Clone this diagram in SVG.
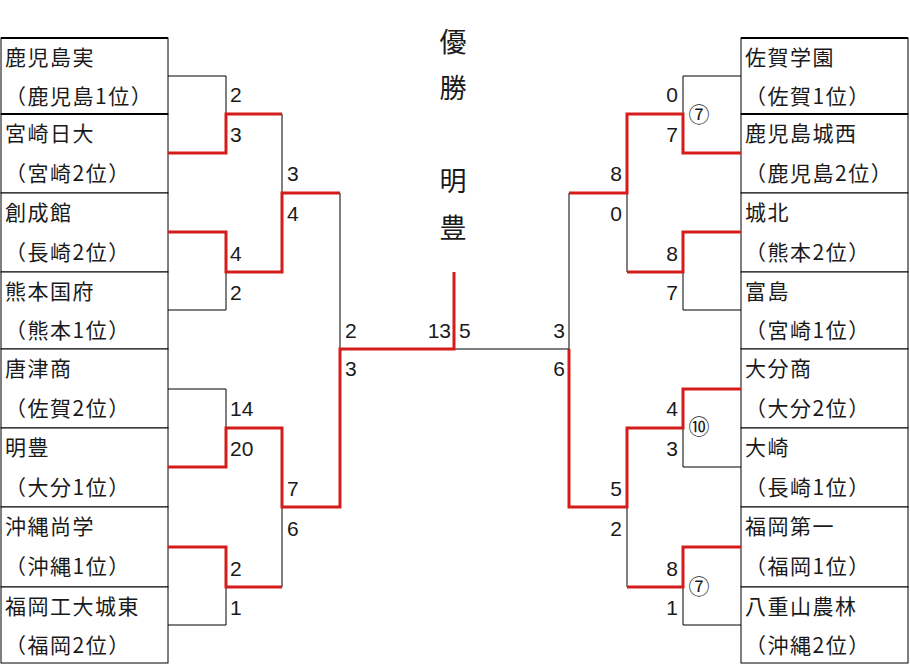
<svg xmlns="http://www.w3.org/2000/svg" width="910" height="664" viewBox="0 0 910 664">
<style>
.box{fill:#fff;stroke:#000;stroke-width:1}
.thick{stroke:#000;stroke-width:2}
.t{font-family:"Noto Sans CJK JP","Noto Sans CJK SC",sans-serif;font-size:21px;letter-spacing:1.5px;fill:#1a1a1a}
.s{font-family:"Liberation Sans","Noto Sans",sans-serif;font-size:21px;fill:#1a1a1a}
.c{font-family:"Noto Sans CJK JP",sans-serif;font-size:21px;fill:#1a1a1a;text-anchor:middle}
.e{text-anchor:end}
.v{font-family:"Noto Sans CJK JP","Noto Sans CJK SC",sans-serif;font-size:27px;fill:#1a1a1a;text-anchor:middle}
.k{fill:none;stroke:#000;stroke-width:1}
.r{fill:none;stroke:#d41c1c;stroke-width:3;stroke-linejoin:miter}
</style>
<rect width="910" height="664" fill="#fff"/>
<g id="left-teams">
<g id="L1"><rect class="box" x="1" y="38" width="167" height="76"/><text class="t" x="5" y="65">鹿児島実</text><text class="t" x="5" y="104">（鹿児島1位）</text></g>
<g id="L2"><rect class="box" x="1" y="114" width="167" height="79"/><text class="t" x="5" y="141">宮崎日大</text><text class="t" x="5" y="181">（宮崎2位）</text></g>
<g id="L3"><rect class="box" x="1" y="193" width="167" height="79"/><text class="t" x="5" y="220">創成館</text><text class="t" x="5" y="260">（長崎2位）</text></g>
<g id="L4"><rect class="box" x="1" y="272" width="167" height="77"/><text class="t" x="5" y="299">熊本国府</text><text class="t" x="5" y="338">（熊本1位）</text></g>
<g id="L5"><rect class="box" x="1" y="349" width="167" height="79"/><text class="t" x="5" y="376">唐津商</text><text class="t" x="5" y="416">（佐賀2位）</text></g>
<g id="L6"><rect class="box" x="1" y="428" width="167" height="79"/><text class="t" x="5" y="455">明豊</text><text class="t" x="5" y="495">（大分1位）</text></g>
<g id="L7"><rect class="box" x="1" y="507" width="167" height="80"/><text class="t" x="5" y="534">沖縄尚学</text><text class="t" x="5" y="574">（沖縄1位）</text></g>
<g id="L8"><rect class="box" x="1" y="587" width="167" height="76"/><text class="t" x="5" y="614">福岡工大城東</text><text class="t" x="5" y="653">（福岡2位）</text></g>
<line class="thick" x1="1" y1="38" x2="168" y2="38"/><line class="thick" x1="1" y1="114" x2="168" y2="114"/>
</g>
<g id="right-teams">
<g id="R1"><rect class="box" x="741" y="38" width="167" height="76"/><text class="t" x="745" y="65">佐賀学園</text><text class="t" x="745" y="104">（佐賀1位）</text></g>
<g id="R2"><rect class="box" x="741" y="114" width="167" height="79"/><text class="t" x="745" y="141">鹿児島城西</text><text class="t" x="745" y="181">（鹿児島2位）</text></g>
<g id="R3"><rect class="box" x="741" y="193" width="167" height="79"/><text class="t" x="745" y="220">城北</text><text class="t" x="745" y="260">（熊本2位）</text></g>
<g id="R4"><rect class="box" x="741" y="272" width="167" height="77"/><text class="t" x="745" y="299">富島</text><text class="t" x="745" y="338">（宮崎1位）</text></g>
<g id="R5"><rect class="box" x="741" y="349" width="167" height="79"/><text class="t" x="745" y="376">大分商</text><text class="t" x="745" y="416">（大分2位）</text></g>
<g id="R6"><rect class="box" x="741" y="428" width="167" height="79"/><text class="t" x="745" y="455">大崎</text><text class="t" x="745" y="495">（長崎1位）</text></g>
<g id="R7"><rect class="box" x="741" y="507" width="167" height="80"/><text class="t" x="745" y="534">福岡第一</text><text class="t" x="745" y="574">（福岡1位）</text></g>
<g id="R8"><rect class="box" x="741" y="587" width="167" height="76"/><text class="t" x="745" y="614">八重山農林</text><text class="t" x="745" y="653">（沖縄2位）</text></g>
<line class="thick" x1="741" y1="38" x2="908" y2="38"/><line class="thick" x1="741" y1="114" x2="908" y2="114"/>
</g>
<g id="connectors">
<path class="k" d="M168,76H226V114M226,272V310H168M282,114V193M340,193V349M168,389H226V428M226,587V625H168M282,507V587"/>
<path class="k" d="M741,76H683V114M627,193V272M683,272V310H741M569,193V349M454,349H569M741,467H683V428M627,507V587M683,587V625H741"/>
<path class="r" d="M168,153H226V114H282"/>
<path class="r" d="M168,232H226V272H282V193H340"/>
<path class="r" d="M168,467H226V428H282V507H340V349H454V272"/>
<path class="r" d="M168,547H226V587H282"/>
<path class="r" d="M741,153H683V114H627V193H569"/>
<path class="r" d="M741,232H683V272H627"/>
<path class="r" d="M741,389H683V428H627V507H569V349"/>
<path class="r" d="M741,547H683V587H627"/>
</g>
<g id="champion">
<text class="v" x="453" y="52">優</text>
<text class="v" x="453" y="98">勝</text>
<text class="v" x="453" y="191">明</text>
<text class="v" x="453" y="238">豊</text>
</g>
<g id="scores">
<text class="s" x="230" y="102">2</text>
<text class="s" x="230" y="142">3</text>
<text class="s" x="287" y="181">3</text>
<text class="s" x="287" y="221">4</text>
<text class="s" x="230" y="261">4</text>
<text class="s" x="230" y="300">2</text>
<text class="s" x="345" y="338">2</text>
<text class="s" x="345" y="376">3</text>
<text class="s" x="230" y="416">14</text>
<text class="s" x="230" y="456">20</text>
<text class="s" x="287" y="496">7</text>
<text class="s" x="287" y="536">6</text>
<text class="s" x="230" y="576">2</text>
<text class="s" x="230" y="615">1</text>
<text class="s e" x="451" y="338">13</text>
<text class="s" x="459" y="338">5</text>
<text class="s e" x="565" y="338">3</text>
<text class="s e" x="565" y="376">6</text>
<text class="s e" x="678" y="102">0</text>
<text class="s e" x="678" y="142">7</text>
<text class="s e" x="622" y="181">8</text>
<text class="s e" x="622" y="221">0</text>
<text class="s e" x="678" y="261">8</text>
<text class="s e" x="678" y="300">7</text>
<text class="s e" x="678" y="416">4</text>
<text class="s e" x="678" y="456">3</text>
<text class="s e" x="622" y="496">5</text>
<text class="s e" x="622" y="536">2</text>
<text class="s e" x="678" y="576">8</text>
<text class="s e" x="678" y="615">1</text>
<text class="c" x="699" y="122">⑦</text>
<text class="c" x="699" y="434">⑩</text>
<text class="c" x="699" y="594">⑦</text>
</g>
</svg>
